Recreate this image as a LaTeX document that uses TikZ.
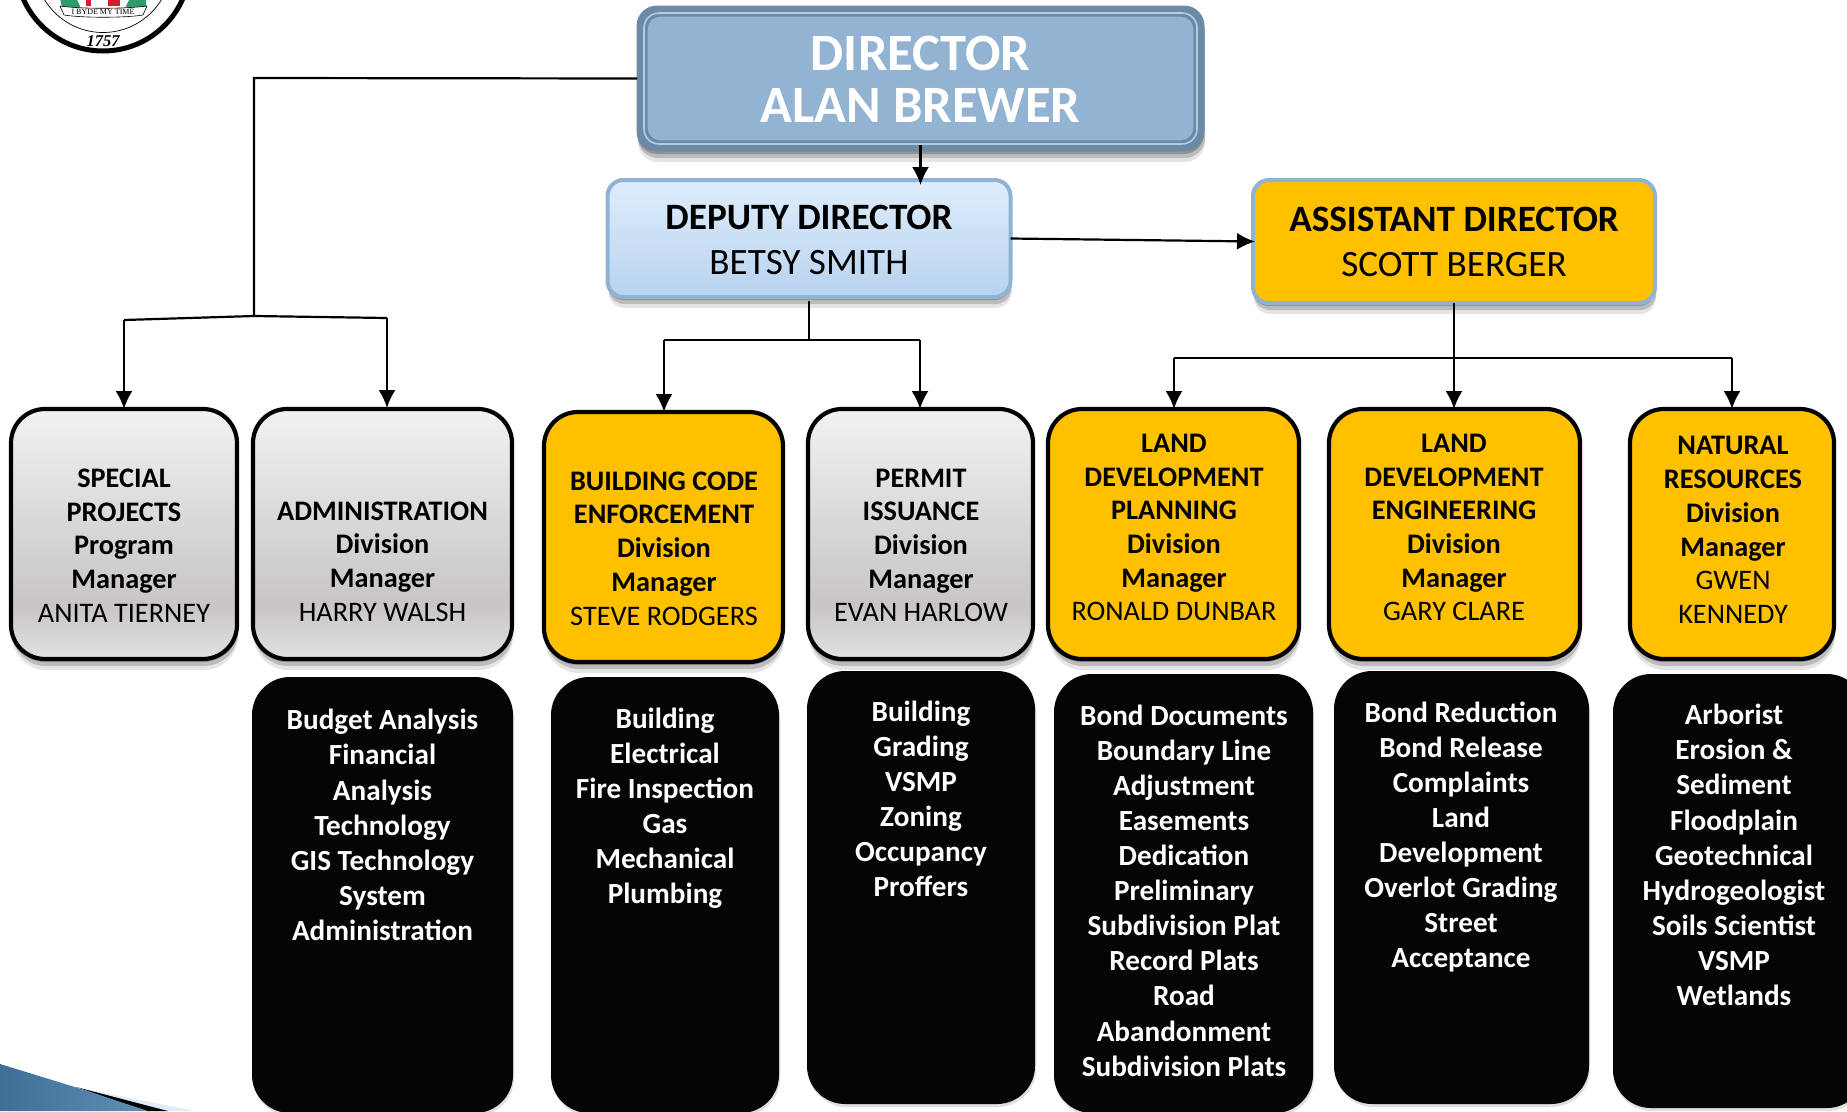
\documentclass[tikz,border=0pt]{standalone}
\usepackage{fontspec}
\setmainfont{Carlito}
\newfontfamily\sealfont{Liberation Serif}
\usetikzlibrary{arrows.meta,shadows}
\definecolor{dirdark}{HTML}{6C8AA5}
\definecolor{dirfill}{HTML}{93B3D2}
\definecolor{dirline}{HTML}{B0CBE4}
\definecolor{bluebd}{HTML}{8FB3D5}
\definecolor{deptop}{HTML}{DEEDFD}
\definecolor{depbot}{HTML}{B8D3EE}
\definecolor{orangefill}{HTML}{FFC000}
\definecolor{grayA}{HTML}{F3F1F1}
\definecolor{grayB}{HTML}{C9C5C5}
\definecolor{grayC}{HTML}{E2E0E0}
\definecolor{swooshA}{HTML}{3F6F96}
\definecolor{swooshB}{HTML}{5E8FB5}
\definecolor{sealgreen}{HTML}{2F9A6E}
\definecolor{sealred}{HTML}{D0202E}
\pgfdeclareverticalshading{grayboxshade}{100bp}{color(0bp)=(grayC); color(25bp)=(grayC); color(36bp)=(grayB); color(75bp)=(grayA); color(100bp)=(grayA)}
\tikzset{
  softshadow/.style={drop shadow={shadow xshift=0pt,shadow yshift=-3pt,opacity=.22,fill=black},
                     drop shadow={shadow xshift=1pt,shadow yshift=-7pt,opacity=.18,fill=black},
                     drop shadow={shadow xshift=1pt,shadow yshift=-11pt,opacity=.10,fill=black}},
  boxbase/.style={rectangle,inner sep=0pt,outer sep=0pt,rounded corners=34pt,line width=4.2pt,draw=black,softshadow},
  graybox/.style={boxbase,shading=grayboxshade},
  orangebox/.style={boxbase,fill=orangefill},
  blackbox/.style={rectangle,inner sep=0pt,outer sep=0pt,rounded corners=38pt,fill=black!98,
                   drop shadow={shadow xshift=1pt,shadow yshift=-3pt,opacity=.12,fill=black}},
  topbox/.style={rectangle,inner sep=0pt,outer sep=0pt,rounded corners=16pt,line width=4pt,draw=bluebd,softshadow},
  boxtext/.style={align=center,inner sep=0pt,font=\fontsize{28.3}{33.7}\selectfont},
  listtext/.style={align=center,inner sep=0pt,text=white,font=\fontsize{29.2}{35.1}\selectfont\bfseries},
  toptext/.style={align=center,inner sep=0pt,font=\fontsize{37.2}{45}\selectfont},
  conn/.style={line width=2.2pt,draw=black},
  arr/.style={conn,-{Latex[length=18pt,width=17pt]}}
}
\begin{document}
\begin{tikzpicture}[x=1pt,y=-1pt]
\useasboundingbox (0,0) rectangle (1847,1111);
\clip (0,0) rectangle (1847,1111);

% seal, cut by the top edge
\fill[white] (103,-36) circle (89);
\draw[line width=5pt] (103,-36) circle (87);
\draw[line width=.7pt] (103,-36) circle (68.5);
\fill[sealgreen] (60,-2) -- (76,-2) -- (80,6) -- (76,14) -- (62,8) -- cycle;
\fill[sealgreen] (130,-2) -- (146,-2) -- (146,8) -- (132,14) -- (126,6) -- cycle;
\fill[sealred] (108,-2) rectangle (120,6);
\fill[sealred] (86,-2) rectangle (91,6);
\draw[line width=.6pt,fill=white] (60,6) .. controls (80,9) and (125,9) .. (147,6) -- (143,15) .. controls (125,18) and (82,18) .. (64,15) -- cycle;
\node (motto) at (103,11.5) [inner sep=0pt,font=\sealfont\fontsize{8}{9}\selectfont] {I BYDE MY TIME};
\node (year) at (103,41) [inner sep=0pt,font=\sealfont\itshape\bfseries\fontsize{16.5}{17}\selectfont] {1757};

% corner swoosh
\fill[deptop] (80,1088) -- (195,1111) -- (150,1111) -- cycle;
\fill[black] (76,1087) -- (168,1111) -- (146,1111) -- cycle;
\shade[left color=swooshA,right color=swooshB] (0,1064) -- (78,1088) -- (148,1111) -- (0,1111) -- cycle;

% top boxes
\node[boxbase,rounded corners=20pt,draw=dirdark,fill=dirdark,line width=1pt,minimum width=567pt,minimum height=145pt] (dir) at (920.5,78.5) {};
\draw[dirline,line width=1.6pt,rounded corners=15pt] ([shift={(7,7)}]dir.north west) rectangle ([shift={(-7,-7)}]dir.south east);
\draw[draw=dirdark,fill=dirfill,line width=1.2pt,rounded corners=13pt] ([shift={(10,10)}]dir.north west) rectangle ([shift={(-10,-10)}]dir.south east);
\node[toptext,text=white,font=\fontsize{52.5}{52}\selectfont\bfseries] (dirt) at (920.5,79) {DIRECTOR\\ALAN BREWER};

\node[topbox,top color=deptop,bottom color=depbot,minimum width=403pt,minimum height=117pt] (dep) at (809,238.5) {};
\node[toptext] (dept) at (809,240) {\bfseries DEPUTY DIRECTOR\\BETSY SMITH};
\node[topbox,fill=orangefill,minimum width=402pt,minimum height=123pt] (asst) at (1454,241.5) {};
\node[toptext] (asstt) at (1454,241.5) {\bfseries ASSISTANT DIRECTOR\\SCOTT BERGER};

% manager boxes
\node[graybox,minimum width=226pt,minimum height=250pt] (sp) at (124,534) {};
\node[graybox,minimum width=259pt,minimum height=250pt] (adm) at (382.5,534) {};
\node[orangebox,minimum width=239pt,minimum height=250pt] (bce) at (663.5,537) {};
\node[graybox,minimum width=225pt,minimum height=250pt] (pi) at (920.5,534) {};
\node[orangebox,minimum width=251pt,minimum height=250pt] (ldp) at (1173.5,534) {};
\node[orangebox,minimum width=251pt,minimum height=250pt] (lde) at (1454.5,534) {};
\node[orangebox,minimum width=204pt,minimum height=250pt] (nr) at (1732,534) {};

\node[boxtext] (spt) at (124,545.5) {\bfseries SPECIAL\\\bfseries PROJECTS\\\bfseries Program\\\bfseries Manager\\ANITA TIERNEY};
\node[boxtext] (admt) at (382.5,561.5) {\bfseries ADMINISTRATION\\\bfseries Division\\\bfseries Manager\\HARRY WALSH};
\node[boxtext] (bcet) at (664,548.5) {\bfseries BUILDING CODE\\\bfseries ENFORCEMENT\\\bfseries Division\\\bfseries Manager\\STEVE RODGERS};
\node[boxtext] (pit) at (921,545.5) {\bfseries PERMIT\\\bfseries ISSUANCE\\\bfseries Division\\\bfseries Manager\\EVAN HARLOW};
\node[boxtext] (ldpt) at (1174,527.5) {\bfseries LAND\\\bfseries DEVELOPMENT\\\bfseries PLANNING\\\bfseries Division\\\bfseries Manager\\RONALD DUNBAR};
\node[boxtext] (ldet) at (1454,527.5) {\bfseries LAND\\\bfseries DEVELOPMENT\\\bfseries ENGINEERING\\\bfseries Division\\\bfseries Manager\\GARY CLARE};
\node[boxtext] (nrt) at (1733,530) {\bfseries NATURAL\\\bfseries RESOURCES\\\bfseries Division\\\bfseries Manager\\GWEN\\KENNEDY};

% lists
\node[blackbox,minimum width=261pt,minimum height=436pt] (adml) at (382.5,895) {};
\node[blackbox,minimum width=228pt,minimum height=436pt] (bcel) at (665,895) {};
\node[blackbox,minimum width=228pt,minimum height=433pt] (pil) at (921,887.5) {};
\node[blackbox,minimum width=259pt,minimum height=439pt] (ldpl) at (1183.5,893.5) {};
\node[blackbox,minimum width=255pt,minimum height=433pt] (ldel) at (1461.5,887.5) {};
\node[blackbox,minimum width=252pt,minimum height=434pt] (nrl) at (1739,891) {};

\node[listtext] (admlt) at (382.5,825) {Budget Analysis\\Financial\\Analysis\\Technology\\GIS Technology\\System\\Administration};
\node[listtext] (bcelt) at (665,808) {Building\\Electrical\\Fire Inspection\\Gas\\Mechanical\\Plumbing};
\node[listtext] (pilt) at (921,799) {Building\\Grading\\VSMP\\Zoning\\Occupancy\\Proffers};
\node[listtext] (ldplt) at (1184,890.5) {Bond Documents\\Boundary Line\\Adjustment\\Easements\\Dedication\\Preliminary\\Subdivision Plat\\Record Plats\\Road\\Abandonment\\Subdivision Plats};
\node[listtext] (ldelt) at (1461,837) {Bond Reduction\\Bond Release\\Complaints\\Land\\Development\\Overlot Grading\\Street\\Acceptance};
\node[listtext] (nrlt) at (1734,855) {Arborist\\Erosion \&\\Sediment\\Floodplain\\Geotechnical\\Hydrogeologist\\Soils Scientist\\VSMP\\Wetlands};

% connectors
\coordinate (leftdrop) at (254,78);
\coordinate (leftmid) at (254,316);
\coordinate (leftA) at (124,320);
\coordinate (leftB) at (387,318);
\draw[conn] (dir.west) -- (leftdrop) -- (leftmid);
\draw[conn] (leftA) -- (leftmid) -- (leftB);
\draw[arr] (leftA) -- (sp.north);
\draw[arr] (leftB) -- (387,408);
\draw[arr] ([yshift=6pt]dir.south) -- ([yshift=-5pt]dep.north -| dir.south);
\draw[arr] (dep.east) -- ([xshift=2pt]asst.west);
\coordinate (depmid) at (809,340);
\coordinate (depA) at (664,340);
\coordinate (depB) at (920,340);
\draw[conn] (809,301) -- (depmid);
\draw[conn] (depA) -- (depB);
\draw[arr] (depA) -- (bce.north -| depA);
\draw[arr] (depB) -- (pi.north -| depB);
\coordinate (asA) at (1174,358);
\coordinate (asB) at (1732,358);
\draw[arr] (asst.south) -- (lde.north -| asst.south);
\draw[conn] (asA) -- (asB);
\draw[arr] (asA) -- (ldp.north -| asA);
\draw[arr] (asB) -- (nr.north -| asB);
\end{tikzpicture}
\end{document}
